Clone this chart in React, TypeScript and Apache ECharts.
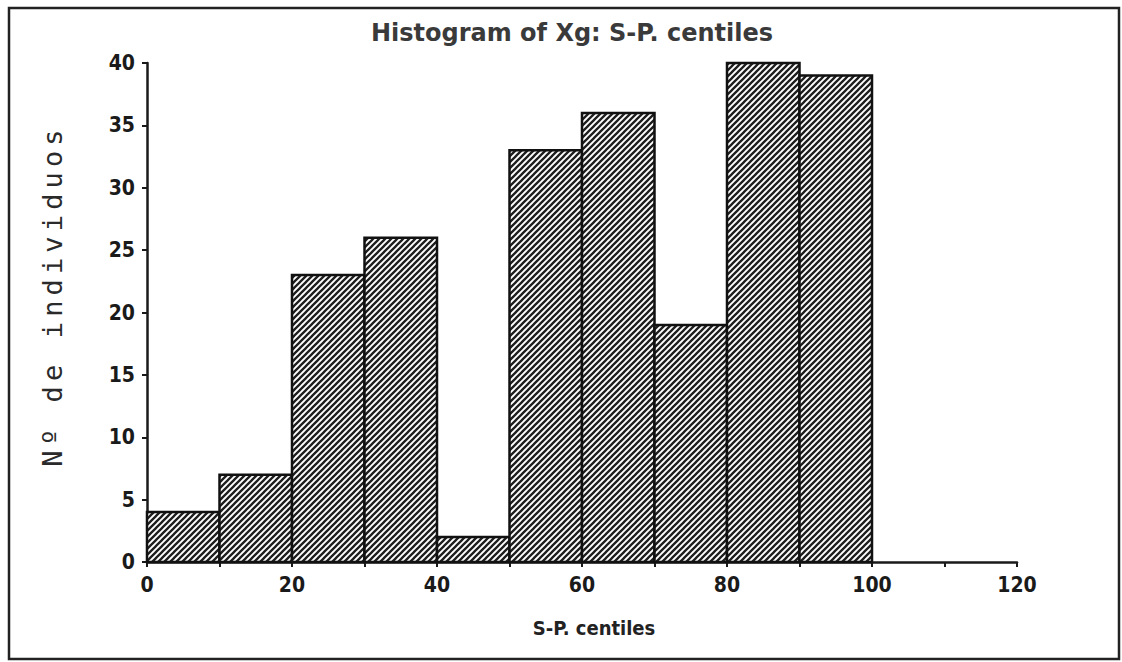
import React, { useEffect, useRef } from "react";
import * as echarts from "echarts";

const titleText = "Histogram of Xg: S-P. centiles";
const xAxisName = "S-P. centiles";
const yAxisName = "N\u00ba de individuos";
const binStarts = [0, 10, 20, 30, 40, 50, 60, 70, 80, 90];
const binEnds = [10, 20, 30, 40, 50, 60, 70, 80, 90, 100];
const counts = [4, 7, 23, 26, 2, 33, 36, 19, 40, 39];
const xTickLabels = [0, 20, 40, 60, 80, 100, 120];
const yTickLabels = [0, 5, 10, 15, 20, 25, 30, 35, 40];

function makeHatch(): HTMLCanvasElement {
  const c = document.createElement("canvas");
  const s = 6;
  c.width = s;
  c.height = s;
  const ctx = c.getContext("2d")!;
  ctx.fillStyle = "#ffffff";
  ctx.fillRect(0, 0, s, s);
  ctx.strokeStyle = "#1e1e1e";
  ctx.lineWidth = 2.3;
  ctx.beginPath();
  ctx.moveTo(-1, s + 1);
  ctx.lineTo(s + 1, -1);
  ctx.moveTo(-1, 1);
  ctx.lineTo(1, -1);
  ctx.moveTo(s - 1, s + 1);
  ctx.lineTo(s + 1, s - 1);
  ctx.stroke();
  return c;
}

export default function App() {
  const ref = useRef<HTMLDivElement>(null);
  useEffect(() => {
    if (!ref.current) return;
    const chart = echarts.init(ref.current, null, { renderer: "svg" });
    const hatch = { image: makeHatch(), repeat: "repeat" };
    const data = binStarts.map((s, i) => [s, binEnds[i], counts[i]]);
    const tickFont = "'Liberation Sans Narrow', 'DejaVu Sans Condensed', 'DejaVu Sans', sans-serif";
    const yChars = yAxisName.split("").map((ch) => `{c|${ch === " " ? "\u00a0" : ch}}`).join("");
    chart.setOption({
      animation: false,
      backgroundColor: "#ffffff",
      title: {
        text: titleText,
        left: 567,
        top: 16,
        textAlign: "center",
        textStyle: {
          fontFamily: "'DejaVu Sans', sans-serif",
          fontWeight: "bold",
          fontSize: 24,
          color: "#3a3a3a",
        },
      },
      grid: { left: 147, right: 105, top: 63, bottom: 100, containLabel: false },
      xAxis: {
        type: "value",
        min: 0,
        max: 120,
        interval: 10,
        name: xAxisName,
        nameLocation: "middle",
        nameGap: 56,
        nameTextStyle: {
          fontFamily: tickFont,
          fontWeight: "bold",
          fontSize: 20,
          color: "#222",
          padding: [0, 0, 0, 24],
        },
        axisLine: { lineStyle: { color: "#1a1a1a", width: 2.5 } },
        axisTick: { inside: false, length: 5, lineStyle: { color: "#1a1a1a", width: 2 } },
        axisLabel: {
          margin: 12,
          fontFamily: tickFont,
          fontWeight: "bold",
          fontSize: 21,
          color: "#1a1a1a",
          formatter: (v: number) => (xTickLabels.includes(v) ? String(v) : ""),
        },
        splitLine: { show: false },
      },
      yAxis: {
        type: "value",
        min: 0,
        max: 40,
        interval: 5,
        offset: 6,
        axisLine: { show: true, lineStyle: { color: "#1a1a1a", width: 2.5 } },
        axisTick: { show: true, inside: false, length: 5, lineStyle: { color: "#1a1a1a", width: 2 } },
        axisLabel: {
          margin: 6,
          fontFamily: tickFont,
          fontWeight: "bold",
          fontSize: 21,
          color: "#1a1a1a",
          formatter: (v: number) => (yTickLabels.includes(v) ? String(v) : ""),
        },
        splitLine: { show: false },
      },
      graphic: [
        {
          type: "rect",
          shape: { x: 9, y: 8, width: 1110, height: 651 },
          style: { fill: "none", stroke: "#222", lineWidth: 2.5 },
          silent: true,
        },
        {
          type: "text",
          x: 52,
          y: 298,
          rotation: Math.PI / 2,
          style: {
            text: yChars,
            align: "center",
            verticalAlign: "middle",
            rich: {
              c: {
                width: 21.4,
                fontFamily: "'DejaVu Sans Mono', 'Liberation Mono', monospace",
                fontSize: 27,
                fill: "#2a2a2a",
              },
            },
          },
          silent: true,
        },
      ],
      series: [
        {
          type: "custom",
          data,
          encode: { x: [0, 1], y: 2 },
          renderItem: (params: any, api: any) => {
            const x0 = api.value(0);
            const x1 = api.value(1);
            const y = api.value(2);
            const p0 = api.coord([x0, 0]);
            const p1 = api.coord([x1, y]);
            return {
              type: "rect",
              shape: { x: p0[0], y: p1[1], width: p1[0] - p0[0], height: p0[1] - p1[1] },
              style: { fill: hatch, stroke: "#111", lineWidth: 2.5 },
            };
          },
        },
      ],
    });
    return () => chart.dispose();
  }, []);
  return (
    <div
      ref={ref}
      style={{ position: "fixed", left: 0, top: 0, width: 1122, height: 662 }}
    />
  );
}
